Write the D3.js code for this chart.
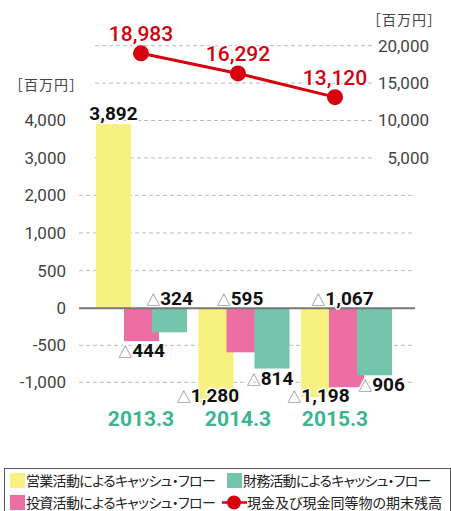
<!DOCTYPE html>
<html lang="ja">
<head>
  <meta charset="UTF-8">
  <title>キャッシュ・フロー</title>
  <script src="https://d3js.org/d3.v7.min.js"></script>
  <style>
    body {
      margin: 0;
      background: #fff;
      font-family: Roboto, "Noto Sans CJK JP", sans-serif;
    }
    .grid {
      stroke: #bbb;
      stroke-width: 1;
      stroke-dasharray: 4,3;
    }
    .halo {
      paint-order: stroke;
      stroke: #fff;
      stroke-width: 3px;
      stroke-linejoin: round;
    }
    .jp {
      font-family: "Noto Sans CJK JP", sans-serif;
      font-feature-settings: "palt";
    }
  </style>
</head>
<body>
  <div id="chart"></div>
  <script>
    // data
    const categories = ["2013.3", "2014.3", "2015.3"];
    const operatingCF = [3892, -1280, -1198];   // 営業活動によるキャッシュ・フロー
    const investingCF = [-444, -595, -1067];    // 投資活動によるキャッシュ・フロー
    const financingCF = [-324, -814, -906];     // 財務活動によるキャッシュ・フロー
    const cashBalance = [18983, 16292, 13120];  // 現金及び現金同等物の期末残高
    const leftTicks = [4000, 3000, 2000, 1000, 500, 0, -500, -1000];
    const rightTicks = [5000, 10000, 15000, 20000];

    const width = 451, height = 511;
    const red = "#d7000f";

    const series = [
      { key: "op", name: "営業活動によるキャッシュ・フロー", color: "#f8f07f", values: operatingCF },
      { key: "inv", name: "投資活動によるキャッシュ・フロー", color: "#ec6ea3", values: investingCF },
      { key: "fin", name: "財務活動によるキャッシュ・フロー", color: "#73c6ab", values: financingCF }
    ];

    // labels that sit on top of the zero line, and small sideways nudges
    const labelAbove = { "fin|2013.3": true, "inv|2014.3": true, "inv|2015.3": true };
    const labelNudge = { "op|2014.3": -8, "fin|2015.3": 7, "inv|2014.3": -4, "inv|2015.3": -4, "fin|2014.3": -2 };

    const svg = d3.select("#chart").append("svg")
      .attr("width", width)
      .attr("height", height);

    // left axis is broken: 1,000 steps above 1,000 and 500 steps below
    const yL = d3.scaleLinear()
      .domain([-1000, 0, 1000, 4000])
      .range([382.3, 308.3, 233, 120]);

    const yR = d3.scaleLinear()
      .domain([0, 20000])
      .range([195.3, 45.7]);

    const x0 = d3.scaleBand()
      .domain(categories)
      .range([96, 96 + 3 * 102.5]);

    const x1 = d3.scalePoint()
      .domain(series.map(s => s.key))
      .range([0, 56]);
    const barW = 35;

    const xP = d3.scalePoint()
      .domain(categories)
      .range([141, 335]);

    const fmt = d => d3.format(",")(d).replace("\u2212", "-");

    // gridlines
    svg.append("g").selectAll("line")
      .data(rightTicks)
      .join("line")
      .attr("class", "grid")
      .attr("x1", 95).attr("x2", 372)
      .attr("y1", d => yR(d)).attr("y2", d => yR(d));

    svg.append("g").selectAll("line")
      .data(leftTicks.filter(d => d <= 2000 && d !== 0))
      .join("line")
      .attr("class", "grid")
      .attr("x1", 79).attr("x2", 415)
      .attr("y1", d => yL(d)).attr("y2", d => yL(d));

    // axes
    const axisL = svg.append("g")
      .attr("transform", "translate(66,0)")
      .call(d3.axisLeft(yL).tickValues(leftTicks).tickSize(0).tickPadding(0).tickFormat(fmt));
    const axisR = svg.append("g")
      .attr("transform", "translate(429,0)")
      .call(d3.axisLeft(yR).tickValues(rightTicks).tickSize(0).tickPadding(0).tickFormat(fmt));
    [axisL, axisR].forEach(a => {
      a.select(".domain").remove();
      a.selectAll("text")
        .attr("fill", "#444")
        .style("font-family", "Roboto, sans-serif")
        .style("font-size", "17px");
    });

    [[9, 90], [367, 25]].forEach(p => {
      svg.append("text")
        .attr("x", p[0]).attr("y", p[1])
        .attr("fill", "#444")
        .style("font-family", "'Noto Sans CJK JP', sans-serif")
        .style("font-size", "14px")
        .style("letter-spacing", "1px")
        .text("［百万円］");
    });

    // bars
    const barData = [];
    series.forEach(s => {
      categories.forEach((c, i) => {
        barData.push({ key: s.key, color: s.color, cat: c, value: s.values[i] });
      });
    });

    svg.append("g").selectAll("rect")
      .data(barData)
      .join("rect")
      .attr("x", d => x0(d.cat) + x1(d.key))
      .attr("y", d => Math.min(yL(d.value), yL(0)))
      .attr("width", barW)
      .attr("height", d => Math.abs(yL(d.value) - yL(0)))
      .attr("fill", d => d.color);

    // zero line
    svg.append("line")
      .attr("x1", 79).attr("x2", 415)
      .attr("y1", yL(0)).attr("y2", yL(0))
      .attr("stroke", "#777")
      .attr("stroke-width", 2);

    // bar labels
    const labels = svg.append("g").selectAll("text")
      .data(barData)
      .join("text")
      .attr("class", "halo")
      .attr("text-anchor", "middle")
      .attr("x", d => x0(d.cat) + x1(d.key) + barW / 2 + (labelNudge[d.key + "|" + d.cat] || 0))
      .attr("y", d => {
        if (d.value >= 0) return yL(d.value) - 4;
        if (labelAbove[d.key + "|" + d.cat]) return yL(0) - 3;
        return Math.min(yL(d.value) + 16, 402);
      });
    labels.filter(d => d.value < 0).append("tspan")
      .attr("fill", "#777")
      .style("font-family", "'Noto Sans CJK JP', sans-serif")
      .style("font-size", "14px")
      .text("△");
    labels.append("tspan")
      .attr("fill", "#111")
      .style("font-family", "Roboto, sans-serif")
      .style("font-size", "19px")
      .style("font-weight", "bold")
      .text(d => fmt(Math.abs(d.value)));

    // category labels
    svg.append("g").selectAll("text")
      .data(categories)
      .join("text")
      .attr("x", d => xP(d))
      .attr("y", 426)
      .attr("text-anchor", "middle")
      .attr("fill", "#3bb591")
      .style("font-family", "Roboto, sans-serif")
      .style("font-size", "21px")
      .style("font-weight", "bold")
      .text(d => d);

    // cash balance line
    const line = d3.line()
      .x((d, i) => xP(categories[i]))
      .y(d => yR(d));

    svg.append("path")
      .datum(cashBalance)
      .attr("d", line)
      .attr("fill", "none")
      .attr("stroke", red)
      .attr("stroke-width", 3);

    svg.append("g").selectAll("circle")
      .data(cashBalance)
      .join("circle")
      .attr("cx", (d, i) => xP(categories[i]))
      .attr("cy", d => yR(d))
      .attr("r", 8)
      .attr("fill", red);

    svg.append("g").selectAll("text")
      .data(cashBalance)
      .join("text")
      .attr("class", "halo")
      .attr("x", (d, i) => xP(categories[i]))
      .attr("y", d => yR(d) - 12)
      .attr("text-anchor", "middle")
      .attr("fill", red)
      .style("font-family", "Roboto, sans-serif")
      .style("font-size", "21px")
      .style("font-weight", "500")
      .text(d => fmt(d));

    // legend
    const legend = svg.append("g");
    legend.append("rect")
      .attr("x", 4.5).attr("y", 468.5)
      .attr("width", 446).attr("height", 60)
      .attr("fill", "none")
      .attr("stroke", "#555")
      .attr("stroke-width", 1);

    const legendItems = [
      { type: "box", color: series[0].color, name: series[0].name, x: 10, y: 480.5, ls: -0.7 },
      { type: "box", color: series[2].color, name: series[2].name, x: 227, y: 480.5, ls: -0.8 },
      { type: "box", color: series[1].color, name: series[1].name, x: 10, y: 502.5, ls: -0.7 },
      { type: "line", color: red, name: "現金及び現金同等物の期末残高", x: 222, y: 502.5, ls: 0 }
    ];

    legendItems.forEach(it => {
      if (it.type === "box") {
        legend.append("rect")
          .attr("x", it.x).attr("y", it.y - 7.5)
          .attr("width", 15).attr("height", 15)
          .attr("fill", it.color);
      } else {
        legend.append("line")
          .attr("x1", it.x).attr("x2", it.x + 25)
          .attr("y1", it.y).attr("y2", it.y)
          .attr("stroke", it.color).attr("stroke-width", 2.5);
        legend.append("circle")
          .attr("cx", it.x + 12).attr("cy", it.y)
          .attr("r", 7).attr("fill", it.color);
      }
      legend.append("text")
        .attr("class", "jp")
        .attr("x", it.type === "box" ? it.x + 16 : it.x + 25)
        .attr("y", it.y)
        .attr("dy", "0.36em")
        .attr("fill", "#222")
        .style("font-size", "14px")
        .style("letter-spacing", it.ls + "px")
        .text(it.name);
    });
  </script>
</body>
</html>
